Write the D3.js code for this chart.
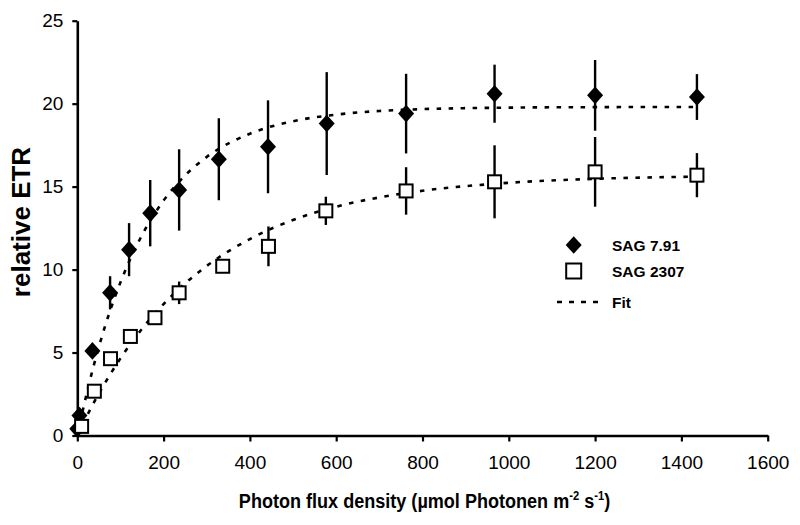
<!DOCTYPE html>
<html>
<head>
<meta charset="utf-8">
<script src="https://cdn.jsdelivr.net/npm/d3@7"></script>
<style>
  html, body { margin: 0; padding: 0; background: #fff; }
  svg { display: block; font-family: "Liberation Sans", Arial, sans-serif; }
</style>
</head>
<body>
<svg id="chart" width="800" height="525"></svg>
<script>
// ---- Data ----
const sag791X   = [0, 5, 35, 76, 120, 169, 236, 328, 442, 578, 762, 967, 1200, 1436];
const sag791Y   = [0.4, 1.2, 5.1, 8.6, 11.2, 13.4, 14.8, 16.65, 17.4, 18.8, 19.4, 20.6, 20.5, 20.4];
const sag791Err = [0, 0, 0, 1.0, 1.6, 2.0, 2.45, 2.47, 2.8, 3.1, 2.4, 1.75, 2.13, 1.38];

const sag2307X   = [10, 39.5, 77, 123, 180, 236, 337, 443, 576, 762, 967, 1200, 1436];
const sag2307Y   = [0.55, 2.67, 4.63, 5.97, 7.1, 8.6, 10.2, 11.4, 13.54, 14.74, 15.29, 15.89, 15.69];
const sag2307Err = [0, 0, 0, 0, 0, 0.68, 0, 1.2, 0.85, 1.43, 2.2, 2.1, 1.33];

// fitted curves
const fitX       = [0, 25, 50, 75, 100, 150, 200, 250, 300, 400, 500, 600, 700, 800, 1000, 1200, 1436];
const fit791Y    = [0, 2.88, 5.34, 7.44, 9.23, 12.08, 14.16, 15.68, 16.79, 18.19, 18.94, 19.34, 19.56, 19.67, 19.76, 19.79, 19.8];
const fit2307Y   = [0, 1.32, 2.53, 3.63, 4.65, 6.43, 7.92, 9.17, 10.22, 11.84, 12.99, 13.79, 14.35, 14.75, 15.23, 15.47, 15.6];

const xTicks = [0, 200, 400, 600, 800, 1000, 1200, 1400, 1600];
const yTicks = [0, 5, 10, 15, 20, 25];
const legendLabels = ["SAG 7.91", "SAG 2307", "Fit"];

// ---- Layout ----
const svg = d3.select("#chart");
const plotLeft = 77.3, plotRight = 767.7, plotTop = 20.7, plotBottom = 435.5;

const x = d3.scaleLinear().domain([0, 1600]).range([plotLeft, plotRight]);
const y = d3.scaleLinear().domain([0, 25]).range([plotBottom, plotTop]);

// ---- Axes ----
const xAxis = d3.axisBottom(x).tickValues(xTicks).tickFormat(d3.format("d"))
  .tickSize(6).tickPadding(14).tickSizeOuter(0);
const yAxis = d3.axisLeft(y).tickValues(yTicks).tickFormat(d3.format("d"))
  .tickSize(5).tickPadding(9).tickSizeOuter(0);

const gx = svg.append("g").attr("transform", `translate(0,${plotBottom})`).call(xAxis);
const gy = svg.append("g").attr("transform", `translate(${plotLeft},0)`).call(yAxis);

[gx, gy].forEach(g => {
  g.select(".domain").attr("stroke", "#000").attr("stroke-width", 2.6);
  g.selectAll(".tick line").attr("stroke", "#000").attr("stroke-width", 2.2);
  g.selectAll(".tick text").attr("fill", "#000").style("font-size", "19px")
    .style("font-family", "'Liberation Sans', Arial, sans-serif");
});
gx.selectAll(".tick text").attr("dy", "0.71em");

// axis titles
svg.append("text")
  .attr("transform", `translate(${(plotLeft + plotRight) / 2 + 2},508) scale(0.86,1)`)
  .attr("text-anchor", "middle")
  .style("font-size", "21px").style("font-weight", "bold")
  .call(t => {
    t.append("tspan").text("Photon flux density (µmol Photonen m");
    t.append("tspan").attr("dy", -8).style("font-size", "13px").text("-2");
    t.append("tspan").attr("dy", 8).text(" s");
    t.append("tspan").attr("dy", -8).style("font-size", "13px").text("-1");
    t.append("tspan").attr("dy", 8).text(")");
  });

svg.append("text")
  .attr("transform", `translate(30,222) rotate(-90)`)
  .attr("text-anchor", "middle")
  .style("font-size", "26px").style("font-weight", "bold")
  .text("relative ETR");

// ---- Fit lines ----
const fitLine = d3.line().x(d => x(d[0])).y(d => y(d[1])).curve(d3.curveMonotoneX);
const fitStyle = sel => sel.attr("fill", "none").attr("stroke", "#000")
  .attr("stroke-width", 2.6).attr("stroke-dasharray", "4.5,7.5");

svg.append("path").datum(fitX.map((v, i) => [v, fit791Y[i]])).attr("d", fitLine).call(fitStyle);
svg.append("path").datum(fitX.map((v, i) => [v, fit2307Y[i]])).attr("d", fitLine).call(fitStyle);

// ---- Series data ----
const d791  = sag791X.map((v, i) => ({x: v, y: sag791Y[i], e: sag791Err[i]}));
const d2307 = sag2307X.map((v, i) => ({x: v, y: sag2307Y[i], e: sag2307Err[i]}));

function errorBars(data) {
  svg.append("g").selectAll("line").data(data.filter(d => d.e > 0)).join("line")
    .attr("x1", d => x(d.x)).attr("x2", d => x(d.x))
    .attr("y1", d => y(d.y + d.e)).attr("y2", d => y(d.y - d.e))
    .attr("stroke", "#000").attr("stroke-width", 2.4);
}
errorBars(d791);
errorBars(d2307);

const diamondPath = "M0,-8.8L8,0L0,8.8L-8,0Z";
const squareSide = 13;

svg.append("g").selectAll("path").data(d791).join("path")
  .attr("transform", d => `translate(${x(d.x)},${y(d.y)})`)
  .attr("d", diamondPath).attr("fill", "#000");

svg.append("g").selectAll("rect").data(d2307).join("rect")
  .attr("x", d => x(d.x) - squareSide / 2).attr("y", d => y(d.y) - squareSide / 2)
  .attr("width", squareSide).attr("height", squareSide)
  .attr("fill", "#fff").attr("stroke", "#000").attr("stroke-width", 2);

// ---- Legend ----
const lg = svg.append("g");
const lgX = 573.7, txtX = 612;
const rows = [245, 271, 302];
lg.append("path").attr("transform", `translate(${lgX},${rows[0]})`).attr("d", diamondPath).attr("fill", "#000");
lg.append("rect").attr("x", lgX - 7.5).attr("y", rows[1] - 7.5).attr("width", 15).attr("height", 15)
  .attr("fill", "#fff").attr("stroke", "#000").attr("stroke-width", 2);
lg.append("line").attr("x1", 557).attr("x2", 602).attr("y1", rows[2]).attr("y2", rows[2])
  .attr("stroke", "#000").attr("stroke-width", 2.6).attr("stroke-dasharray", "5,7");
legendLabels.forEach((t, i) => {
  lg.append("text").attr("x", txtX).attr("y", rows[i]).attr("dy", "0.36em")
    .style("font-size", "15.5px").style("font-weight", "bold").text(t);
});
</script>
</body>
</html>
